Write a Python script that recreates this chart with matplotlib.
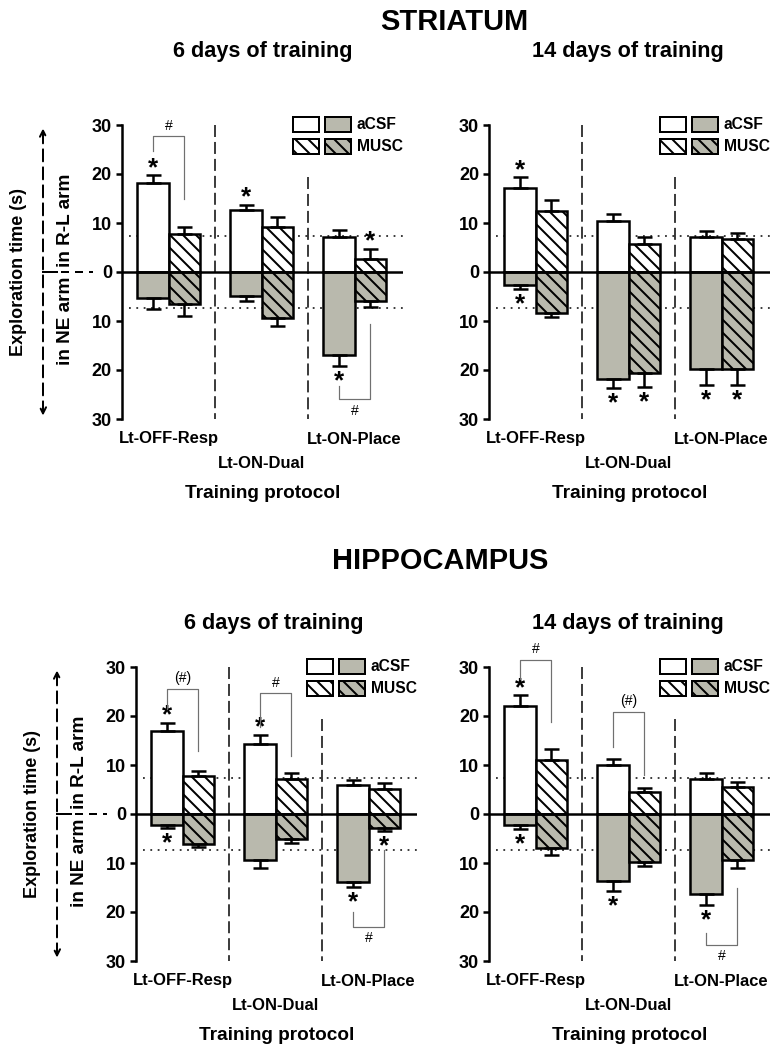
import matplotlib
matplotlib.use('Agg')
import matplotlib.pyplot as plt
import matplotlib.transforms as mtransforms
from matplotlib.patches import Rectangle
import numpy as np

DPI = 78
PT = 72 / DPI  # pixel -> point

plt.rcParams['font.family'] = ['Liberation Sans', 'DejaVu Sans']
plt.rcParams['font.weight'] = 'bold'
plt.rcParams['hatch.linewidth'] = 2 * PT

GREY = '#b9b9ad'
HATCH = '\\\\'
FIG_W, FIG_H = 775, 1059

groups = ['Lt-OFF-Resp', 'Lt-ON-Dual', 'Lt-ON-Place']
ytick_vals = [-30, -20, -10, 0, 10, 20, 30]
ytick_labels = ['30', '20', '10', '0', '10', '20', '30']

# striatum, 6 days  (R-L = upward, NE = downward, values in s)
str6_acsf_rl = [18.1, 12.6, 7.1]
str6_acsf_rl_err = [1.6, 1.1, 1.5]
str6_acsf_ne = [5.4, 4.8, 17.0]
str6_acsf_ne_err = [2.1, 1.1, 2.1]
str6_musc_rl = [7.8, 9.1, 2.7]
str6_musc_rl_err = [1.4, 2.1, 2.0]
str6_musc_ne = [6.5, 9.4, 5.9]
str6_musc_ne_err = [2.4, 1.7, 1.2]

# striatum, 14 days
str14_acsf_rl = [17.1, 10.5, 7.2]
str14_acsf_rl_err = [2.2, 1.3, 1.1]
str14_acsf_ne = [2.6, 21.8, 19.8]
str14_acsf_ne_err = [0.8, 1.9, 3.2]
str14_musc_rl = [12.5, 5.8, 6.7]
str14_musc_rl_err = [2.1, 1.3, 1.3]
str14_musc_ne = [8.4, 20.7, 19.8]
str14_musc_ne_err = [0.8, 2.8, 3.3]

# hippocampus, 6 days
hip6_acsf_rl = [17.0, 14.2, 6.0]
hip6_acsf_rl_err = [1.6, 1.9, 0.9]
hip6_acsf_ne = [2.2, 9.3, 13.8]
hip6_acsf_ne_err = [0.6, 1.7, 1.1]
hip6_musc_rl = [7.8, 7.1, 5.2]
hip6_musc_rl_err = [1.0, 1.2, 1.2]
hip6_musc_ne = [6.1, 5.1, 2.9]
hip6_musc_ne_err = [0.7, 0.8, 0.6]

# hippocampus, 14 days
hip14_acsf_rl = [22.1, 10.0, 7.2]
hip14_acsf_rl_err = [2.1, 1.2, 1.1]
hip14_acsf_ne = [2.2, 13.7, 16.4]
hip14_acsf_ne_err = [0.8, 2.1, 2.2]
hip14_musc_rl = [11.0, 4.5, 5.5]
hip14_musc_rl_err = [2.3, 0.8, 1.1]
hip14_musc_ne = [6.9, 9.8, 9.4]
hip14_musc_ne_err = [1.4, 0.8, 1.6]

# significance stars: (group, treatment, side)
str6_stars = [(0, 'acsf', 'rl'), (1, 'acsf', 'rl'), (2, 'musc', 'rl'), (2, 'acsf', 'ne')]
str14_stars = [(0, 'acsf', 'rl'), (0, 'acsf', 'ne'), (1, 'acsf', 'ne'), (1, 'musc', 'ne'),
               (2, 'acsf', 'ne'), (2, 'musc', 'ne')]
hip6_stars = [(0, 'acsf', 'rl'), (0, 'acsf', 'ne'), (1, 'acsf', 'rl'), (2, 'acsf', 'ne'), (2, 'musc', 'ne')]
hip14_stars = [(0, 'acsf', 'rl'), (0, 'acsf', 'ne'), (1, 'acsf', 'ne'), (2, 'acsf', 'ne')]

# aCSF vs MUSC brackets: (group, left end, bar level, right end, label)
str6_brackets = [(0, 24.6, 27.7, 14.9, '#'), (2, -23.3, -26.0, -10.6, '#')]
str14_brackets = []
hip6_brackets = [(0, 21.5, 25.6, 12.9, '(#)'), (1, 17.8, 24.6, 11.9, '#'), (2, -20.1, -23.0, -7.3, '#')]
hip14_brackets = [(0, 27.6, 31.5, 18.7, '#'), (1, 13.6, 20.9, 8.0, '(#)'), (2, -24.2, -26.7, -15.2, '#')]

W = 0.34
x = np.arange(len(groups))
xa = x - W / 2
xm = x + W / 2


def fig_ax(left, top, w=281, h=294):
    return fig.add_axes([left / FIG_W, 1 - (top + h) / FIG_H, w / FIG_W, h / FIG_H])


def panel(ax, vals, stars, brackets, with_ylabel):
    a_rl, a_rl_e, a_ne, a_ne_e, m_rl, m_rl_e, m_ne, m_ne_e = vals
    neg = lambda v: [-t for t in v]
    zeros = [0] * len(groups)
    kw = dict(width=W, edgecolor='k', linewidth=2.5 * PT, zorder=2)
    ax.bar(xa, a_rl, color='white', **kw)
    ax.bar(xa, neg(a_ne), color=GREY, **kw)
    ax.bar(xm, m_rl, color='white', hatch=HATCH, **kw)
    ax.bar(xm, neg(m_ne), color=GREY, hatch=HATCH, **kw)
    ekw = dict(fmt='none', ecolor='k', elinewidth=2.5 * PT, capsize=7.5 * PT,
               capthick=2.5 * PT, zorder=3)
    ax.errorbar(xa, a_rl, yerr=[zeros, a_rl_e], **ekw)
    ax.errorbar(xa, neg(a_ne), yerr=[a_ne_e, zeros], **ekw)
    ax.errorbar(xm, m_rl, yerr=[zeros, m_rl_e], **ekw)
    ax.errorbar(xm, neg(m_ne), yerr=[m_ne_e, zeros], **ekw)

    ax.axhline(0, color='k', lw=2.5 * PT, zorder=4)
    ax.hlines([7.25, -7.25], -0.42, 2.52, colors='k', lw=1.5 * PT,
              linestyles=[(0, (1.2, 3.7))], zorder=1)
    dash = (0, (8, 3.3))
    ax.plot([0.5, 0.5], [30, -30], color='k', lw=1.5 * PT, ls=dash, zorder=1)
    ax.plot([1.5, 1.5], [19.3, -30], color='k', lw=1.5 * PT, ls=dash, zorder=1)

    ends = {('acsf', 'rl'): (xa, a_rl, a_rl_e), ('acsf', 'ne'): (xa, a_ne, a_ne_e),
            ('musc', 'rl'): (xm, m_rl, m_rl_e), ('musc', 'ne'): (xm, m_ne, m_ne_e)}
    for g, trt, side in stars:
        xs, v, e = ends[(trt, side)]
        if side == 'rl':
            y = v[g] + e[g] + 2.0
        else:
            y = -(v[g] + e[g]) - 2.6
        ax.text(xs[g], y, '*', ha='center', va='center_baseline', fontsize=26 * PT,
                fontweight='bold', zorder=5)

    for g, y1, y2, y3, lab in brackets:
        ax.plot([xa[g], xa[g], xm[g], xm[g]], [y1, y2, y2, y3], color='#707070',
                lw=1.2 * PT, clip_on=False, zorder=5)
        if y2 > 0:
            ax.text(x[g], y2 + 0.7, lab, ha='center', va='bottom', fontsize=14 * PT,
                    fontweight='normal', clip_on=False)
        else:
            ax.text(x[g], y2 - 0.9, lab, ha='center', va='top', fontsize=14 * PT,
                    fontweight='normal', clip_on=False)

    ax.set_xlim(-0.5, 2.52)
    ax.set_ylim(-30, 30)
    for s in ['top', 'right', 'bottom']:
        ax.spines[s].set_visible(False)
    ax.spines['left'].set_linewidth(2.5 * PT)
    ax.set_xticks([])
    ax.set_yticks(ytick_vals)
    ax.set_yticklabels(ytick_labels)
    ax.tick_params(axis='y', direction='out', length=6 * PT, width=2.5 * PT,
                   labelsize=18 * PT, pad=4 * PT)

    # category labels and x title
    tb = mtransforms.blended_transform_factory(ax.transData, ax.transAxes)
    for i, (g, dy) in enumerate(zip(groups, [20, 44, 20])):
        ax.text(x[i], -dy / 294, g, transform=tb, ha='center', va='center',
                fontsize=16.5 * PT)
    ax.text(0.5, -75 / 294, 'Training protocol', transform=ax.transAxes,
            ha='center', va='center', fontsize=19 * PT)

    # legend
    ta = ax.transAxes
    for row, (hatch, name) in enumerate([('', 'aCSF'), (HATCH, 'MUSC')]):
        yb = 0.976 - row * 0.073
        for x0, fc in [(0.609, 'white'), (0.722, GREY)]:
            ax.add_patch(Rectangle((x0, yb), 0.0925, 0.05, transform=ta, facecolor=fc,
                                   edgecolor='k', lw=2 * PT, hatch=hatch, clip_on=False))
        ax.text(0.836, yb + 0.025, name, transform=ta, ha='left', va='center',
                fontsize=15.6 * PT)

    if with_ylabel:
        ty = mtransforms.blended_transform_factory(ax.transAxes, ax.transData)
        ax.annotate('', xy=(-79 / 281, 29.3), xytext=(-79 / 281, -29.3), xycoords=ty,
                    textcoords=ty, annotation_clip=False,
                    arrowprops=dict(arrowstyle='<->', lw=2 * PT, ls=(0, (6, 3)),
                                    color='k', mutation_scale=14, shrinkA=0, shrinkB=0))
        ax.plot([-79 / 281, -65 / 281], [0, 0], color='k', lw=2 * PT, transform=ty,
                clip_on=False)
        ax.plot([-61 / 281, -29 / 281], [0, 0], color='k', lw=2 * PT, transform=ty,
                ls=(0, (4, 3)), clip_on=False)
        ax.text(-104 / 281, 0, 'Exploration time (s)', transform=ty, rotation=90,
                ha='center', va='center', fontsize=18 * PT)
        ax.text(-57 / 281, 1.0, 'in R-L arm', transform=ty, rotation=90,
                ha='center', va='bottom', fontsize=19 * PT)
        ax.text(-57 / 281, -1.0, 'in NE arm', transform=ty, rotation=90,
                ha='center', va='top', fontsize=19 * PT)


fig = plt.figure(figsize=(FIG_W / DPI, FIG_H / DPI), dpi=DPI)

panels = [
    ((122, 125), (str6_acsf_rl, str6_acsf_rl_err, str6_acsf_ne, str6_acsf_ne_err,
                  str6_musc_rl, str6_musc_rl_err, str6_musc_ne, str6_musc_ne_err),
     str6_stars, str6_brackets, True),
    ((489, 125), (str14_acsf_rl, str14_acsf_rl_err, str14_acsf_ne, str14_acsf_ne_err,
                  str14_musc_rl, str14_musc_rl_err, str14_musc_ne, str14_musc_ne_err),
     str14_stars, str14_brackets, False),
    ((136, 667), (hip6_acsf_rl, hip6_acsf_rl_err, hip6_acsf_ne, hip6_acsf_ne_err,
                  hip6_musc_rl, hip6_musc_rl_err, hip6_musc_ne, hip6_musc_ne_err),
     hip6_stars, hip6_brackets, True),
    ((489, 667), (hip14_acsf_rl, hip14_acsf_rl_err, hip14_acsf_ne, hip14_acsf_ne_err,
                  hip14_musc_rl, hip14_musc_rl_err, hip14_musc_ne, hip14_musc_ne_err),
     hip14_stars, hip14_brackets, False),
]
for (left, top), vals, stars, brackets, ylab in panels:
    ax = fig_ax(left, top)
    panel(ax, vals, stars, brackets, ylab)


def ftext(px, py, s, size):
    fig.text(px / FIG_W, 1 - py / FIG_H, s, ha='center', va='center', fontsize=size * PT)


ftext(454, 22, 'STRIATUM', 29)
ftext(440, 561, 'HIPPOCAMPUS', 29)
ftext(263, 52, '6 days of training', 21.7)
ftext(628, 52, '14 days of training', 21.7)
ftext(274, 623, '6 days of training', 21.7)
ftext(628, 623, '14 days of training', 21.7)

fig.savefig('out.png', dpi=DPI)
